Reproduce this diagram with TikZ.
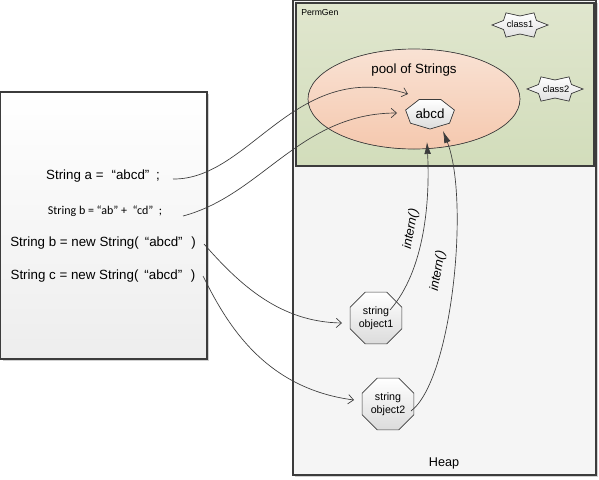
\documentclass[tikz,border=0pt]{standalone}
\usepackage{fontspec}
\setmainfont{Liberation Sans}
\newfontfamily\calfont{Carlito}
\usetikzlibrary{arrows.meta,shapes.geometric,shadows}
\definecolor{lncol}{HTML}{3C3C3C}
\definecolor{permtop}{HTML}{E0E6CE}
\definecolor{permbot}{HTML}{D2DDBB}
\definecolor{pooltop}{HTML}{F9E2D4}
\definecolor{poolbot}{HTML}{F5C8AE}
\newcommand\mystar[2]{%
  \filldraw[starsty] (#1,#2) +(0:28 and 14) -- +(30:19 and 9) -- +(60:28 and 14)
   -- +(90:19 and 9) -- +(120:28 and 14) -- +(150:19 and 9) -- +(180:28 and 14)
   -- +(210:19 and 9) -- +(240:28 and 14) -- +(270:19 and 9) -- +(300:28 and 14)
   -- +(330:19 and 9) -- cycle;}
\begin{document}
\begin{tikzpicture}[x=0.75pt,y=-0.75pt,
  box/.style={draw=lncol, line width=0.8pt},
  shad/.style={drop shadow={shadow xshift=1.5pt, shadow yshift=-1.5pt, fill=black, opacity=0.18}},
  starsty/.style={draw=lncol, line width=0.5pt, top color=white, bottom color=black!12},
  polysty/.style={draw=lncol, line width=0.5pt, top color=white, bottom color=black!14},
  octa/.style={regular polygon, regular polygon sides=8, minimum size=42pt, inner sep=0pt,
     polysty, align=center, font=\fontsize{8}{9.5}\selectfont},
  code/.style={font=\fontsize{10}{12}\selectfont, inner sep=0pt},
  conn/.style={draw=lncol, line width=0.5pt, -{Straight Barb[length=4pt,width=7pt]}},
  intarr/.style={draw=lncol, line width=0.5pt, -{Latex[length=9pt,width=5pt]}},
  lbl/.style={font=\fontsize{9.5}{11}\selectfont\itshape, inner sep=0pt}]
\useasboundingbox (0,0) rectangle (599,479);

% Heap
\fill[white] (0,0) rectangle (599,479);
\filldraw[box, shad, fill=black!4] (293,0.5) rectangle (596,475);
% PermGen
\filldraw[box, top color=permtop, bottom color=permbot] (296,3) rectangle (594,166);
% pool ellipse
\filldraw[draw=lncol, line width=0.5pt, top color=pooltop, bottom color=poolbot] (414,99) ellipse [x radius=106, y radius=50];
% left box
\filldraw[box, shad, top color=white, bottom color=black!7] (0.5,92) rectangle (207,359);

% stars
\mystar{520}{25}
\mystar{555}{89}
\node[font=\fontsize{7}{8}\selectfont] (c1) at (520,24) {class1};
\node[font=\fontsize{7}{8}\selectfont] (c2) at (556,89) {class2};

% texts
\node[anchor=west, font=\fontsize{6.5}{8}\selectfont, inner sep=0pt] (perm) at (301,13) {PermGen};
\node[font=\fontsize{10}{12}\selectfont] (pool) at (414,70) {pool of Strings};
\node[font=\fontsize{9.5}{11}\selectfont] (heap) at (444,463) {Heap};

% abcd heptagon
\filldraw[polysty] plot[samples at={0,1,2,3,4,5,6}, variable=\k]
  ({430+25*cos(90+\k*360/7)}, {113.5+15.5*sin(90+\k*360/7)}) -- cycle;
\node[font=\fontsize{10}{12}\selectfont] (abcd) at (430,114) {abcd};

% octagons
\node[octa] (o1) at (376,318) {string\\object1};
\node[octa] (o2) at (388,404) {string\\object2};

% code lines
\node[code] (l1) at (103,176) {String a =\hspace{0.6em}“abcd”\hspace{0.5em};};
\node[code, font=\calfont\fontsize{9}{11}\selectfont] (l2) at (105,211) {String b = “ab” +\hspace{0.45em}“cd”\hspace{0.45em};};
\node[code] (l3) at (103,243) {String b = new String(\hspace{0.45em}“abcd”\hspace{0.65em})};
\node[code] (l4) at (103,276) {String c = new String(\hspace{0.45em}“abcd”\hspace{0.65em})};

% connector end points
\coordinate (s1) at (173,179);
\coordinate (t1) at (408,94);
\coordinate (s2) at (183,216);
\coordinate (t2) at (397,113);
\coordinate (s3) at (204,244);
\coordinate (t3) at (342,323);
\coordinate (s4) at (203,276);
\coordinate (t4) at (354,400);
\coordinate (s5) at (390,310);
\coordinate (t5) at (427,142);
\coordinate (s6) at (411,411);
\coordinate (t6) at (443,131);

\draw[conn] (s1) .. controls (250,180) and (295,58) .. (t1);
\draw[conn] (s2) .. controls (262,195) and (300,113) .. (t2);
\draw[conn] (s3) .. controls (240,285) and (280,322) .. (t3);
\draw[conn] (s4) .. controls (225,320) and (262,388) .. (t4);
\draw[intarr] (s5) .. controls (425,270) and (430,200) .. (t5);
\draw[intarr] (s6) .. controls (452,380) and (470,200) .. (t6);

\node[lbl, rotate=80] (i1) at (411,229) {intern()};
\node[lbl, rotate=80] (i2) at (438,271) {intern()};
\end{tikzpicture}
\end{document}
